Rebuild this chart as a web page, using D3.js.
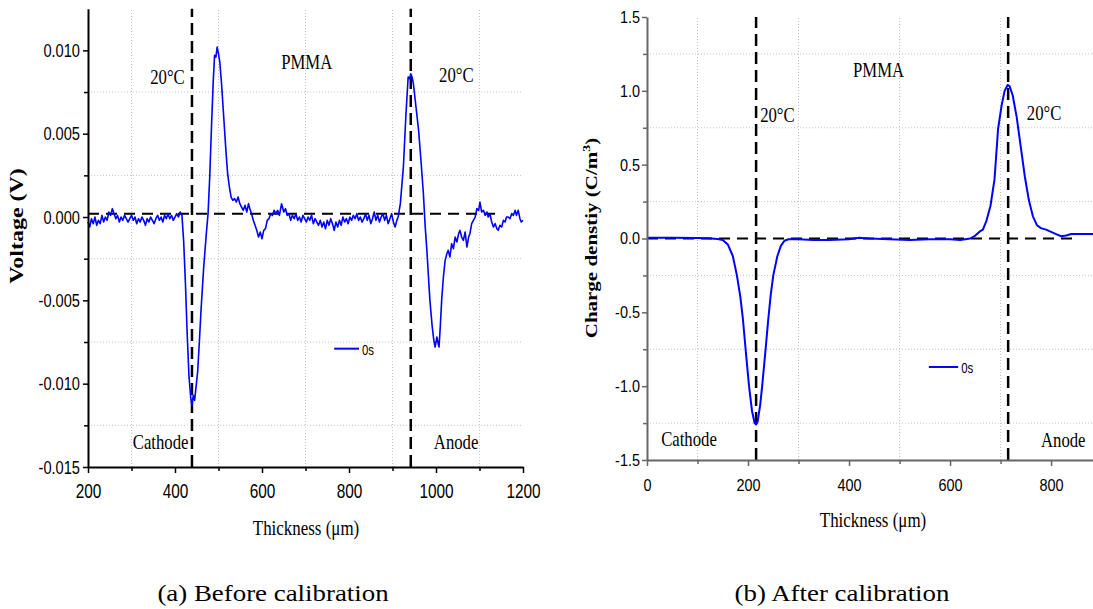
<!DOCTYPE html>
<meta charset="utf-8">

<!-- Load d3.js -->
<script src="https://d3js.org/d3.v7.min.js"></script>
<style>
  body { margin: 0; background: #fff; }
</style>
<body>
<div id="my_dataviz"></div>

<script>
// ---- (a) voltage signal before calibration ----
var leftThickness = [
  200, 204, 208, 212, 216, 220, 224, 228, 232, 236, 240, 244, 248, 252, 256, 260, 264, 268, 272, 276,
  280, 284, 288, 292, 296, 300, 304, 308, 312, 316, 320, 324, 328, 332, 336, 340, 344, 348, 352, 356,
  360, 364, 368, 372, 376, 380, 384, 388, 392, 396, 400, 404, 408, 412, 416, 420, 424, 428, 432, 436,
  439, 442, 445, 448, 452, 456, 460, 466, 472, 476, 480, 484, 488, 491, 494, 497, 500, 503, 507, 512,
  517, 521, 525, 529, 533, 537, 541, 545, 549, 553, 557, 561, 565, 569, 572, 576, 580, 584, 588, 592,
  596, 600, 604, 608, 612, 616, 620, 624, 628, 632, 636, 640, 645, 650, 654, 658, 662, 666, 670, 674,
  678, 682, 686, 690, 694, 698, 702, 706, 710, 714, 718, 722, 726, 730, 734, 738, 742, 746, 750, 754,
  758, 762, 766, 770, 774, 778, 782, 786, 790, 794, 798, 802, 806, 810, 814, 818, 822, 826, 830, 834,
  838, 842, 846, 850, 854, 858, 862, 866, 870, 874, 878, 882, 886, 890, 894, 898, 902, 906, 910, 913,
  918, 925, 931, 936, 939, 942, 945, 948, 954, 960, 966, 971, 975, 979, 986, 991, 995, 998, 1002, 1005,
  1007, 1010, 1013, 1017, 1021, 1025, 1028, 1032, 1036, 1040, 1044, 1048, 1052, 1055, 1059, 1063, 1067, 1071, 1075, 1078,
  1082, 1086, 1090, 1094, 1098, 1101, 1105, 1109, 1113, 1117, 1120, 1124, 1128, 1132, 1136, 1140, 1143, 1147, 1151, 1155,
  1159, 1162, 1166, 1170, 1174, 1178, 1182, 1185, 1189, 1193, 1196, 1200
];
var leftVoltage = [
  -0.0003, -0.0006, -0.0001, -0.0004, 0.0000, -0.0005, -0.0002, -0.0004, 0.0001, -0.0003, 0.0000, -0.0002, 0.0003, 0.0001, 0.0005, 0.0002, -0.0001, 0.0001, -0.0003, 0.0000,
  -0.0002, 0.0001, -0.0001, -0.0003, -0.0001, 0.0001, -0.0002, 0.0000, -0.0004, -0.0001, -0.0003, 0.0000, -0.0002, -0.0005, -0.0001, -0.0003, 0.0000, -0.0002, -0.0004, -0.0001,
  0.0001, -0.0002, 0.0000, -0.0003, 0.0001, -0.0001, 0.0002, -0.0001, 0.0001, -0.0002, 0.0000, 0.0002, 0.0000, 0.0003, 0.0001, -0.0015, -0.0040, -0.0070, -0.0095, -0.0108,
  -0.0113, -0.0107, -0.0110, -0.0103, -0.0093, -0.0075, -0.0055, -0.0030, -0.0010, 0.0002, 0.0025, 0.0055, 0.0082, 0.0097, 0.0096, 0.0102, 0.0098, 0.0093, 0.0080, 0.0060,
  0.0040, 0.0026, 0.0018, 0.0012, 0.0010, 0.0011, 0.0009, 0.0012, 0.0008, 0.0006, 0.0004, 0.0007, 0.0003, 0.0008, 0.0005, 0.0002, -0.0002, -0.0005, -0.0008, -0.0012,
  -0.0009, -0.0013, -0.0008, -0.0007, -0.0002, -0.0001, 0.0002, 0.0001, 0.0004, 0.0002, 0.0004, 0.0001, 0.0008, 0.0003, 0.0005, 0.0001, 0.0002, -0.0002, 0.0001, -0.0001,
  0.0002, -0.0002, 0.0000, -0.0003, 0.0001, -0.0001, -0.0003, 0.0000, -0.0002, 0.0001, -0.0004, -0.0001, -0.0003, -0.0005, -0.0002, -0.0006, -0.0003, -0.0007, -0.0002, -0.0005,
  -0.0001, -0.0004, -0.0008, -0.0003, -0.0006, -0.0002, -0.0005, 0.0000, -0.0003, -0.0001, -0.0004, 0.0000, -0.0002, 0.0001, -0.0001, 0.0002, -0.0002, 0.0000, -0.0003, -0.0001,
  0.0002, -0.0002, 0.0001, -0.0004, -0.0001, 0.0003, -0.0002, 0.0001, -0.0003, 0.0000, 0.0002, -0.0002, 0.0001, -0.0004, -0.0001, 0.0002, -0.0003, -0.0006, -0.0002, 0.0000,
  0.0008, 0.0030, 0.0062, 0.0084, 0.0083, 0.0086, 0.0084, 0.0080, 0.0066, 0.0052, 0.0032, 0.0014, -0.0005, -0.0020, -0.0050, -0.0065, -0.0074, -0.0078, -0.0072, -0.0076,
  -0.0078, -0.0065, -0.0050, -0.0036, -0.0026, -0.0022, -0.0020, -0.0024, -0.0016, -0.0019, -0.0012, -0.0015, -0.0010, -0.0008, -0.0012, -0.0014, -0.0009, -0.0018, -0.0012, -0.0010,
  -0.0004, -0.0002, 0.0000, 0.0005, 0.0004, 0.0009, 0.0003, 0.0004, 0.0001, 0.0003, 0.0000, 0.0002, -0.0003, -0.0006, -0.0004, -0.0007, -0.0008, -0.0005, -0.0006, -0.0002,
  -0.0003, 0.0000, 0.0000, -0.0001, 0.0002, 0.0001, 0.0004, 0.0001, 0.0004, -0.0001, -0.0003, -0.0002
];

// ---- (b) charge density after calibration ----
var rightThickness = [
  0, 50, 100, 120, 140, 150, 160, 170, 178, 185, 190, 196, 202, 208, 213, 216, 219, 224, 228, 234,
  240, 245, 250, 258, 265, 272, 280, 300, 330, 360, 400, 420, 440, 480, 520, 560, 600, 620, 640, 650,
  660, 665, 672, 680, 688, 695, 702, 708, 714, 718, 724, 732, 740, 748, 756, 764, 772, 780, 790, 800,
  810, 820, 830, 840, 850, 883
];
var rightCharge = [
  0.005, 0.005, 0.003, 0.002, -0.003, -0.01, -0.04, -0.12, -0.25, -0.40, -0.55, -0.78, -1.0, -1.17, -1.25, -1.26, -1.24, -1.13, -1.0, -0.78,
  -0.55, -0.38, -0.25, -0.12, -0.05, -0.015, -0.005, -0.005, -0.01, -0.01, -0.005, 0.005, 0.0, -0.005, -0.01, -0.005, -0.005, -0.01, 0.0, 0.02,
  0.05, 0.06, 0.12, 0.22, 0.40, 0.74, 0.90, 1.0, 1.04, 1.03, 0.97, 0.82, 0.62, 0.42, 0.26, 0.15, 0.09, 0.07, 0.06, 0.045,
  0.03, 0.015, 0.02, 0.03, 0.03, 0.03
];

// tick values
var leftXTicks = [200, 400, 600, 800, 1000, 1200];
var leftXMinor = [300, 500, 700, 900, 1100];
var leftYTicks = [-0.015, -0.010, -0.005, 0, 0.005, 0.010];
var leftYMinor = [-0.0125, -0.0075, -0.0025, 0.0025, 0.0075];
var rightXTicks = [0, 200, 400, 600, 800];
var rightXMinor = [100, 300, 500, 700];
var rightYTicks = [-1.5, -1.0, -0.5, 0, 0.5, 1.0, 1.5];
var rightYMinor = [-1.25, -0.75, -0.25, 0.25, 0.75, 1.25];

// electrode positions (vertical dashed markers)
var leftElectrodes = [439, 942];
var rightElectrodes = [216, 715];

// text notes, anchored in data units
var leftNotes = [
  {t: "20°C", x: 343, y: 0.0080},
  {t: "PMMA", x: 644, y: 0.0089},
  {t: "20°C", x: 1007, y: 0.0081},
  {t: "Cathode", x: 303, y: -0.0139},
  {t: "Anode", x: 995, y: -0.0139}
];
var rightNotes = [
  {t: "PMMA", x: 408, y: 1.095},
  {t: "20°C", x: 224, y: 0.79},
  {t: "20°C", x: 752, y: 0.80},
  {t: "Cathode", x: 28, y: -1.405},
  {t: "Anode", x: 780, y: -1.41}
];

var SERIF = "'Liberation Serif', 'Times New Roman', serif";
var SANS = "'Liberation Sans', Arial, sans-serif";

var svg = d3.select("#my_dataviz")
  .append("svg")
    .attr("width", 1093)
    .attr("height", 609);
svg.append("rect").attr("width", 1093).attr("height", 609).attr("fill", "#fff");

function squeezeTicks(axisG, size, k) {
  axisG.attr("font-size", null).attr("font-family", null);
  axisG.selectAll("text")
    .attr("font-size", size)
    .attr("font-family", SANS)
    .attr("fill", "#000")
    .each(function() {
      var t = d3.select(this);
      var x0 = +t.attr("x") || 0;
      t.attr("x", 0).attr("transform", "translate(" + x0 + ",0) scale(" + k + ",1)");
    });
}

function panel(o) {
  var g = svg.append("g");
  var x = d3.scaleLinear().domain(o.xDomain).range(o.xRange);
  var y = d3.scaleLinear().domain(o.yDomain).range(o.yRange);

  // dotted grid on the minor positions
  g.selectAll(".vgrid").data(o.xMinor).enter().append("line")
    .attr("x1", function(d) { return x(d); }).attr("x2", function(d) { return x(d); })
    .attr("y1", o.yRange[0]).attr("y2", o.yRange[1])
    .attr("stroke", "#c4c4c4").attr("stroke-dasharray", "1,2");
  g.selectAll(".hgrid").data(o.yMinor).enter().append("line")
    .attr("x1", o.xRange[0]).attr("x2", o.xRange[1])
    .attr("y1", function(d) { return y(d); }).attr("y2", function(d) { return y(d); })
    .attr("stroke", "#c4c4c4").attr("stroke-dasharray", "1,2");

  // zero reference line
  g.append("line")
    .attr("x1", x(o.xDomain[0])).attr("x2", x(o.zeroEnd))
    .attr("y1", y(o.zeroLevel)).attr("y2", y(o.zeroLevel))
    .attr("stroke", "#000").attr("stroke-width", 2).attr("stroke-dasharray", "11,7");

  // electrode markers
  g.selectAll(".elec").data(o.electrodes).enter().append("line")
    .attr("x1", function(d) { return x(d); }).attr("x2", function(d) { return x(d); })
    .attr("y1", o.yRange[0]).attr("y2", o.yRange[1])
    .attr("stroke", "#000").attr("stroke-width", 2.5).attr("stroke-dasharray", "12,6");

  // the curve
  var pts = o.xs.map(function(v, i) { return [v, o.ys[i]]; });
  g.append("path")
    .datum(pts)
    .attr("fill", "none")
    .attr("stroke", "#0000ff")
    .attr("stroke-width", o.lineWidth)
    .attr("stroke-linejoin", "round")
    .attr("d", d3.line()
      .x(function(d) { return x(d[0]); })
      .y(function(d) { return y(d[1]); }));

  // axes: minor first, then major with labels
  var yBase = o.yRange[0], xBase = o.xRange[0];
  g.append("g").attr("transform", "translate(0," + yBase + ")").attr("color", o.axisColor)
    .call(d3.axisBottom(x).tickValues(o.xMinor).tickSize(4).tickSizeOuter(0).tickFormat(""))
    .call(function(a) { a.select(".domain").remove(); a.selectAll("line").attr("stroke-width", 1.5); });
  g.append("g").attr("transform", "translate(" + xBase + ",0)").attr("color", o.axisColor)
    .call(d3.axisLeft(y).tickValues(o.yMinor).tickSize(4).tickSizeOuter(0).tickFormat(""))
    .call(function(a) { a.select(".domain").remove(); a.selectAll("line").attr("stroke-width", 1.5); });

  var ax = g.append("g").attr("transform", "translate(0," + yBase + ")").attr("color", o.axisColor)
    .call(d3.axisBottom(x).tickValues(o.xTicks).tickSize(6).tickSizeOuter(0)
      .tickPadding(o.xPad).tickFormat(function(d) { return d; }));
  ax.select(".domain").attr("stroke-width", 2);
  ax.selectAll("line").attr("stroke-width", 1.5);
  squeezeTicks(ax, o.xTickSize, o.tickSqueeze);

  var ay = g.append("g").attr("transform", "translate(" + xBase + ",0)").attr("color", o.axisColor)
    .call(d3.axisLeft(y).tickValues(o.yTicks).tickSize(5).tickSizeOuter(0)
      .tickPadding(o.yPad).tickFormat(function(d) { return d.toFixed(o.decimals); }));
  ay.select(".domain").attr("stroke-width", 2);
  ay.selectAll("line").attr("stroke-width", 1.5);
  squeezeTicks(ay, o.yTickSize, o.tickSqueeze);

  // notes
  g.selectAll(".note").data(o.notes).enter().append("text")
    .attr("transform", function(d) { return "translate(" + x(d.x) + "," + y(d.y) + ") scale(0.76,1)"; })
    .attr("font-family", SERIF).attr("font-size", 22).attr("fill", "#000")
    .text(function(d) { return d.t; });

  // legend
  g.append("line")
    .attr("x1", x(o.legend[0])).attr("x2", x(o.legend[1]))
    .attr("y1", y(o.legend[2])).attr("y2", y(o.legend[2]))
    .attr("stroke", "#0000ff").attr("stroke-width", 2);
  g.append("text")
    .attr("transform", "translate(" + (x(o.legend[1]) + 3) + "," + (y(o.legend[2]) + 6) + ") scale(0.76,1)")
    .attr("font-family", SANS).attr("font-size", 15).attr("fill", "#000")
    .text("0s");

  // axis titles
  g.append("text")
    .attr("transform", "translate(" + o.xTitle[0] + "," + o.xTitle[1] + ") scale(0.77,1)")
    .attr("text-anchor", "middle")
    .attr("font-family", SERIF).attr("font-size", 22).attr("fill", "#000")
    .text("Thickness (μm)");
  var yt = g.append("text")
    .attr("transform", "translate(" + o.yTitle[0] + "," + o.yTitle[1] + ") rotate(-90) scale(1,0.76)")
    .attr("text-anchor", "middle")
    .attr("font-family", SERIF).attr("font-weight", "bold").attr("font-size", o.yTitleSize).attr("fill", "#000");
  yt.append("tspan").text(o.yTitleText);
  if (o.yTitleSup) {
    yt.append("tspan").attr("dy", -9).attr("font-size", 14).text(o.yTitleSup);
    yt.append("tspan").attr("dy", 9).text(")");
  }

  // caption
  svg.append("text")
    .attr("transform", "translate(" + o.caption[0] + ",601) scale(1.12,1)")
    .attr("text-anchor", "middle")
    .attr("font-family", SERIF).attr("font-size", 24).attr("fill", "#000")
    .text(o.caption[1]);
}

panel({
  xs: leftThickness, ys: leftVoltage,
  xDomain: [200, 1200], xRange: [88, 523],
  yDomain: [-0.015, 0.0125], yRange: [467, 8.7],
  xTicks: leftXTicks, xMinor: leftXMinor, yTicks: leftYTicks, yMinor: leftYMinor,
  decimals: 3, xPad: 11, yPad: 3, xTickSize: 20, yTickSize: 19, tickSqueeze: 0.77,
  axisColor: "#000", lineWidth: 1.6,
  electrodes: leftElectrodes, zeroLevel: 0.0002, zeroEnd: 1150,
  notes: leftNotes, legend: [766, 823, -0.0079],
  xTitle: [306, 535], yTitle: [23, 226], yTitleSize: 24,
  yTitleText: "Voltage (V)", yTitleSup: null,
  caption: [273, "(a) Before calibration"]
});

panel({
  xs: rightThickness, ys: rightCharge,
  xDomain: [0, 883], xRange: [647, 1093],
  yDomain: [-1.5, 1.5], yRange: [460, 17],
  xTicks: rightXTicks, xMinor: rightXMinor, yTicks: rightYTicks, yMinor: rightYMinor,
  decimals: 1, xPad: 13, yPad: 2, xTickSize: 17, yTickSize: 17, tickSqueeze: 0.85,
  axisColor: "#666", lineWidth: 2,
  electrodes: rightElectrodes, zeroLevel: 0, zeroEnd: 848,
  notes: rightNotes, legend: [558, 616, -0.87],
  xTitle: [873, 527], yTitle: [597, 238], yTitleSize: 21,
  yTitleText: "Charge denstiy (C/m", yTitleSup: "3",
  caption: [842, "(b) After calibration"]
});
</script>
</body>
